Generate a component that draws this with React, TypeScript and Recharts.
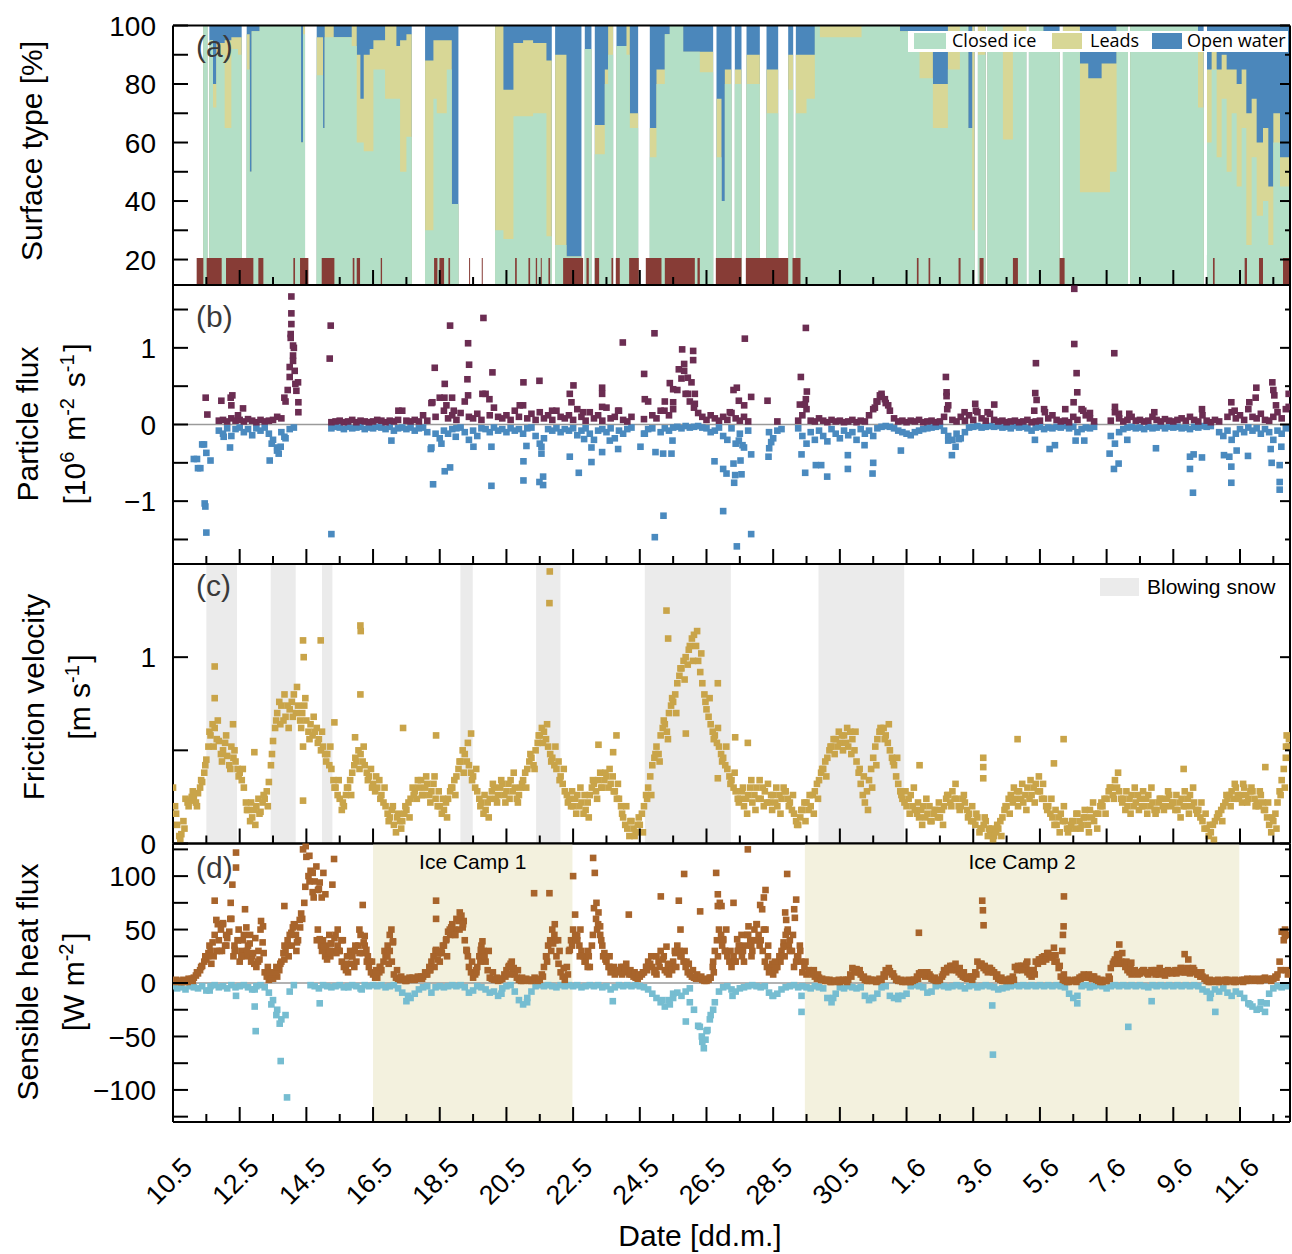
import React from "react";
import {
  ComposedChart, Area, Scatter, XAxis, YAxis, ReferenceArea, ReferenceLine,
} from "recharts";

const W = 1292;
const H = 1254;
const X_MAX = 33.5; // days after 10 May
const STEP = 0.125; // 3 h sampling of the regular series
const DAY_TICKS = [
  0, 1, 2, 3, 4, 5, 6, 7, 8, 9, 10, 11, 12, 13, 14, 15, 16,
  17, 18, 19, 20, 21, 22, 23, 24, 25, 26, 27, 28, 29, 30, 31, 32, 33,
];

// (a) surface type, step series; null = no camera data
const SURF_T = [
  0, 0.91, 1.03, 1.09, 1.2, 1.3, 1.55, 1.75, 1.95, 2.06,
  2.21, 2.3, 2.36, 2.6, 3.84, 3.9, 3.96, 4.31, 4.5, 4.55,
  4.82, 5.36, 5.51, 5.62, 5.72, 5.9, 6.01, 6.36, 6.7, 6.81,
  7.0, 7.16, 7.56, 7.81, 7.91, 8.21, 8.36, 8.56, 9.66, 9.91,
  10.21, 10.5, 10.8, 11.2, 11.36, 11.46, 11.8, 12.25, 12.35, 12.55,
  12.65, 12.95, 13.05, 13.2, 13.3, 13.6, 13.7, 13.95, 14.3, 14.5,
  14.75, 14.9, 15.3, 15.8, 16.2, 16.3, 16.45, 16.55, 16.75, 16.85,
  17.05, 17.2, 17.6, 17.8, 18.15, 18.45, 18.6, 18.68, 19.0, 19.25,
  19.4, 20.65, 21.8, 22.39, 22.79, 23.24, 23.6, 23.85, 23.97, 24.04,
  24.14, 24.37, 24.43, 24.89, 25.19, 25.59, 25.67, 26.1, 26.59, 26.69,
  27.2, 27.45, 27.85, 28.1, 28.3, 28.64, 28.71, 30.74, 30.91, 31.01,
  31.15, 31.3, 31.45, 31.6, 31.75, 31.9, 32.05, 32.19, 32.35, 32.5,
  32.69, 32.85, 33.0, 33.2,
];
const SURF_ICE = [
  null, 100, null, 95, 72, 90, 65, 92, 90, null,
  85, 50, 98, 100, 60, 97, null, 83, 65, 96,
  96, 93, 60, 60, 57, 57, 85, 75, 75, 50,
  62, null, 30, 75, 70, 85, 39, null, 30, 27,
  69, 69, 70, 28, null, 25, 21, null, 92, null,
  56, 80, 90, null, 93, 90, 65, null, 55, 80,
  97, 100, 91, 84, null, 55, 40, 80, null, 80,
  null, 80, null, 70, null, 78, null, 70, 75, 100,
  96, 100, 98, 82, 65, 85, 100, 65, 30, null,
  90, null, 100, 61, 95, null, 100, 97, null, 98,
  43, 43, 43, 50, 100, null, 100, 72, null, 60,
  85, 55, 75, 50, 70, 45, 65, 25, 55, 35,
  40, 25, 60, 45,
];
const SURF_LEADS = [
  null, 0, null, 0, 8, 4, 30, 4, 6, null,
  12, 0, 0, 0, 0, 3, null, 13, 0, 4,
  0, 7, 30, 15, 33, 35, 10, 25, 18, 45,
  35, null, 58, 20, 25, 10, 0, null, 70, 51,
  25, 26, 24, 60, null, 65, 0, null, 0, null,
  10, 5, 10, null, 0, 10, 5, null, 10, 5,
  0, 0, 0, 7, null, 20, 0, 5, null, 5,
  null, 10, null, 15, null, 12, null, 20, 15, 0,
  4, 0, 0, 14, 15, 15, 0, 0, 70, null,
  10, null, 0, 39, 5, null, 0, 0, null, 2,
  44, 39, 44, 37, 0, null, 0, 20, null, 25,
  8, 30, 15, 35, 15, 35, 20, 45, 20, 25,
  25, 20, 10, 10,
];
const SURF_OPEN = [
  null, 0, null, 5, 20, 6, 5, 4, 4, null,
  3, 50, 2, 0, 40, 0, null, 4, 35, 0,
  4, 0, 10, 25, 10, 8, 5, 0, 7, 5,
  3, null, 12, 5, 5, 5, 61, null, 0, 22,
  6, 5, 6, 12, null, 10, 79, null, 8, null,
  34, 15, 0, null, 7, 0, 30, null, 35, 15,
  3, 0, 9, 9, null, 25, 60, 15, null, 15,
  null, 10, null, 15, null, 10, null, 10, 10, 0,
  0, 0, 2, 4, 20, 0, 0, 35, 0, null,
  0, null, 0, 0, 0, null, 0, 3, null, 0,
  13, 18, 13, 13, 0, null, 0, 8, null, 15,
  7, 15, 10, 15, 15, 20, 15, 30, 25, 40,
  35, 55, 30, 45,
];
const FLAG_LEVEL = 20.5;
const FLAGS = [
  [0.71, 0.91], [1.01, 1.46], [1.59, 2.41], [2.56, 2.71], [3.61, 3.66],
  [3.81, 4.06], [4.46, 4.84], [5.39, 5.44], [5.51, 5.61], [6.23, 6.27],
  [7.83, 7.93], [7.99, 8.13], [8.26, 8.31], [8.88, 8.91], [9.26, 9.29],
  [10.26, 10.31], [10.66, 10.71], [10.88, 10.92], [11.03, 11.06], [11.26, 11.31],
  [11.7, 12.3], [12.4, 12.47], [12.65, 12.78], [13.15, 13.2], [13.28, 13.4],
  [13.68, 13.97], [14.18, 14.65], [14.75, 15.65], [15.73, 15.8], [16.28, 17.05],
  [17.18, 18.45], [18.58, 18.82], [22.31, 22.36], [22.66, 22.71], [23.56, 23.62],
  [24.19, 24.31], [25.19, 25.34], [26.59, 26.74], [31.19, 31.24], [32.14, 32.21],
  [32.57, 32.69], [33.29, 33.5],
];

// (b) particle flux, 10^6 m-2 s-1, one value per 3 h
const FLUX_UP = [
  null, null, null, null, null, null, null, null,
  null, null, null, 0.05, 0.06, 0.04, 0.08, 0.05,
  0.06, 0.04, 0.07, 0.05, 0.03, 0.06, 0.04, 0.05,
  0.06, 0.10, 0.08, 0.30, 0.62, 1.00, 0.55, null,
  null, null, null, null, null, null, 0.03, 0.04,
  0.05, 0.03, 0.04, 0.06, 0.03, 0.05, 0.04, 0.03,
  0.04, 0.06, 0.05, 0.03, 0.05, 0.04, 0.06, 0.18,
  0.05, 0.04, 0.06, 0.04, 0.12, 0.05, 0.28, 0.10,
  0.35, 0.18, 0.08, 0.12, 0.06, 0.15, 0.30, 0.10,
  0.08, 0.14, 0.06, 0.40, 0.12, 0.22, 0.10, 0.08,
  0.12, 0.06, 0.18, 0.10, 0.25, 0.08, 0.14, 0.06,
  0.16, 0.08, 0.12, 0.06, 0.18, 0.10, 0.08, 0.12,
  0.06, 0.20, 0.10, 0.05, 0.16, 0.08, 0.12, 0.05,
  0.22, 0.08, 0.10, 0.18, 0.06, 0.04, 0.10, null,
  null, 0.07, 0.30, 0.12, 0.08, 0.18, 0.30, 0.12,
  0.20, 0.45, 0.60, 0.40, 0.30, 0.22, 0.15, 0.10,
  0.06, 0.12, 0.08, 0.05, 0.10, 0.06, 0.15, 0.08,
  0.05, 0.10, 0.04, null, null, null, null, null,
  null, 0.04, null, null, null, null, 0.05, 0.12,
  0.20, 0.05, 0.04, 0.08, 0.05, 0.03, 0.06, 0.04,
  0.05, 0.03, 0.04, 0.06, 0.03, 0.05, 0.04, 0.12,
  0.20, 0.30, 0.36, 0.28, 0.18, 0.08, 0.04, 0.05,
  0.03, 0.05, 0.04, 0.06, 0.03, 0.04, 0.05, 0.03,
  0.04, 0.10, 0.25, 0.06, 0.04, 0.10, 0.05, 0.12,
  0.06, 0.16, 0.08, 0.05, 0.14, 0.06, 0.04, 0.05,
  0.03, 0.04, 0.05, 0.03, 0.04, 0.06, 0.03, 0.04,
  0.05, 0.20, 0.08, 0.12, 0.06, 0.04, 0.05, 0.03,
  0.10, 0.06, 0.20, 0.12, 0.08, 0.04, null, null,
  null, 0.05, 0.16, 0.08, 0.04, 0.06, 0.10, 0.05,
  0.06, 0.04, 0.05, 0.10, 0.06, 0.04, 0.07, 0.05,
  0.04, 0.06, 0.08, 0.05, 0.10, 0.06, 0.04, 0.12,
  0.05, 0.03, 0.06, 0.04, null, 0.10, 0.16, 0.08,
  0.12, 0.06, 0.20, 0.10, 0.08, 0.14, 0.06, 0.05,
  0.10, 0.16, 0.08, 0.20,
];
const FLUX_DOWN = [
  null, null, null, null, null, -0.45, -0.57, -0.26,
  -0.37, -0.47, null, -0.08, -0.12, -0.05, -0.15, -0.06,
  -0.04, -0.10, -0.06, -0.14, -0.05, -0.08, -0.04, -0.12,
  -0.20, -0.30, -0.10, -0.18, -0.06, -0.04, null, null,
  null, null, null, null, null, null, -0.05, -0.03,
  -0.04, -0.06, -0.03, -0.05, -0.04, -0.03, -0.06, -0.04,
  -0.05, -0.03, -0.04, -0.06, -0.03, -0.08, -0.05, -0.04,
  -0.06, -0.04, -0.08, -0.05, -0.04, -0.10, -0.30, -0.12,
  -0.18, -0.08, -0.12, -0.06, -0.05, -0.04, -0.10, -0.20,
  -0.08, -0.15, -0.05, -0.06, -0.10, -0.04, -0.08, -0.06,
  -0.10, -0.05, -0.08, -0.06, -0.12, -0.05, -0.04, -0.15,
  -0.25, -0.18, -0.06, -0.08, -0.05, -0.10, -0.06, -0.08,
  -0.05, -0.14, -0.08, -0.05, -0.12, -0.20, -0.08, -0.06,
  -0.10, -0.05, -0.18, -0.08, -0.12, -0.06, -0.04, null,
  null, -0.12, -0.06, -0.05, null, -0.10, -0.05, -0.08,
  -0.04, -0.03, -0.05, -0.02, -0.04, -0.03, -0.02, -0.04,
  -0.05, -0.10, -0.08, -0.04, -0.15, -0.20, -0.05, -0.25,
  -0.12, -0.30, -0.08, null, null, null, null, -0.10,
  -0.18, -0.08, -0.06, null, null, null, -0.05, -0.15,
  -0.25, -0.10, -0.20, -0.08, -0.15, -0.22, -0.06, -0.12,
  -0.18, -0.08, -0.14, -0.10, -0.20, -0.06, -0.12, -0.08,
  -0.15, -0.05, -0.03, -0.02, -0.03, -0.05, -0.08, -0.10,
  -0.12, -0.14, -0.10, -0.08, -0.06, -0.05, -0.04, -0.03,
  -0.02, -0.08, -0.15, -0.20, -0.12, -0.18, -0.10, -0.04,
  -0.03, -0.02, -0.04, -0.03, -0.02, -0.03, -0.02, -0.04,
  -0.03, -0.05, -0.02, -0.04, -0.03, -0.05, -0.08, -0.04,
  -0.03, -0.06, -0.04, -0.05, -0.03, -0.04, -0.02, -0.05,
  -0.03, -0.10, -0.06, -0.04, -0.05, -0.03, null, null,
  null, -0.15, -0.25, -0.10, -0.06, -0.04, -0.03, -0.05,
  -0.04, -0.06, -0.03, -0.05, -0.04, -0.02, -0.05, -0.03,
  -0.04, -0.03, -0.05, -0.04, -0.06, -0.03, -0.04, -0.02,
  -0.03, -0.02, null, -0.10, -0.15, -0.08, -0.20, -0.12,
  -0.06, -0.10, -0.04, -0.08, -0.05, -0.12, -0.06, -0.10,
  -0.20, -0.08, -0.12, -0.05,
];
const FLUX_UP_EXTRA = [
  [0.98, 0.35], [1.03, 0.13], [1.45, 0.31], [1.73, 0.35], [1.75, 0.25], [1.78, 0.38],
  [2.1, 0.21], [1.95, 0.12], [3.34, 0.35], [3.44, 0.45], [3.55, 1.67], [3.55, 1.45],
  [3.55, 1.31], [3.53, 1.18], [3.53, 1.13], [3.6, 1.03], [3.6, 0.9], [3.6, 0.83],
  [3.65, 0.7], [3.67, 0.53], [3.7, 0.44], [3.76, 0.29], [3.76, 0.16], [3.5, 0.75],
  [4.73, 1.29], [4.7, 0.86], [6.76, 0.18], [7.78, 0.29], [7.85, 0.74], [8.15, 0.53],
  [8.14, 0.35], [8.2, 0.25], [8.31, 1.29], [8.42, 0.18], [8.37, 0.35], [8.85, 1.06],
  [8.88, 0.78], [8.83, 0.59], [8.85, 0.38], [9.28, 0.4], [9.31, 1.39], [9.49, 0.33],
  [9.58, 0.68], [10.51, 0.55], [10.99, 0.57], [10.4, 0.25], [11.37, 0.18], [11.9, 0.4],
  [11.95, 0.29], [12.01, 0.51], [12.3, 0.16], [12.87, 0.48], [12.87, 0.4], [12.87, 0.23],
  [13.35, 0.18], [13.49, 1.07], [14.13, 0.66], [14.15, 0.33], [14.44, 1.19], [14.74, 0.18],
  [14.9, 0.54], [15.0, 0.29], [15.0, 0.46], [15.17, 0.72], [15.27, 0.98], [15.33, 0.79],
  [15.33, 0.7], [15.44, 0.61], [15.44, 0.4], [15.55, 0.55], [15.6, 0.96], [15.6, 0.84],
  [15.65, 0.4], [15.65, 0.27], [16.7, 0.16], [16.81, 0.45], [16.91, 0.48], [16.97, 0.31],
  [17.13, 0.25], [17.15, 1.12], [17.34, 0.36], [17.83, 0.31], [18.83, 0.62], [18.98, 1.26],
  [19.01, 0.43], [18.98, 0.33], [18.95, 0.26], [18.8, 0.26], [21.1, 0.3], [21.2, 0.38],
  [21.25, 0.4], [21.35, 0.33], [21.05, 0.22], [21.45, 0.25], [23.18, 0.62], [23.2, 0.42],
  [23.2, 0.37], [23.22, 0.2], [23.74, 0.16], [24.06, 0.27], [24.08, 0.18], [24.43, 0.16],
  [24.63, 0.26], [25.88, 0.8], [25.86, 0.41], [25.9, 0.32], [25.83, 0.18], [26.15, 0.16],
  [27.03, 1.77], [27.03, 1.05], [27.1, 0.67], [27.12, 0.42], [27.01, 0.29], [26.76, 0.2],
  [27.3, 0.18], [27.5, 0.15], [28.23, 0.93], [28.25, 0.23], [28.37, 0.14], [28.68, 0.14],
  [29.43, 0.16], [30.86, 0.2], [31.74, 0.29], [31.84, 0.18], [32.28, 0.29], [32.47, 0.35],
  [32.49, 0.48], [32.97, 0.55], [33.0, 0.45], [33.03, 0.38], [33.08, 0.25], [33.46, 0.4],
  [33.46, 0.23],
];
const FLUX_DOWN_EXTRA = [
  [0.72, -0.45], [0.82, -0.57], [0.93, -0.26], [0.95, -1.03], [0.97, -1.07], [1.0, -1.41],
  [1.52, -0.16], [1.71, -0.3], [2.9, -0.47], [2.96, -0.25], [3.12, -0.34], [3.17, -0.38],
  [3.23, -0.29], [3.34, -0.16], [4.75, -1.43], [6.55, -0.21], [7.73, -0.32], [7.8, -0.78],
  [8.05, -0.25], [8.15, -0.61], [8.31, -0.56], [8.48, -0.16], [9.01, -0.29], [9.55, -0.8],
  [9.55, -0.29], [10.51, -0.48], [10.51, -0.73], [10.6, -0.28], [10.99, -0.75], [11.1, -0.79],
  [11.1, -0.68], [11.05, -0.29], [11.05, -0.38], [11.9, -0.42], [12.17, -0.63], [12.33, -0.19],
  [12.55, -0.49], [12.55, -0.3], [12.87, -0.36], [13.35, -0.32], [13.1, -0.21], [14.02, -0.29],
  [14.15, -0.12], [14.47, -0.36], [14.45, -1.47], [14.71, -1.19], [14.7, -0.38], [14.95, -0.38],
  [14.98, -0.21], [16.24, -0.48], [16.5, -0.58], [16.6, -0.64], [16.5, -1.13], [16.81, -0.51],
  [16.86, -0.66], [17.02, -0.47], [17.05, -0.65], [16.83, -0.76], [16.91, -1.59], [17.34, -1.43],
  [17.34, -0.39], [17.08, -0.27], [16.97, -0.21], [17.86, -0.42], [17.88, -0.31], [17.94, -0.23],
  [18.85, -0.39], [18.96, -0.63], [19.28, -0.53], [19.44, -0.53], [19.62, -0.68], [20.24, -0.58],
  [20.24, -0.4], [20.74, -0.27], [20.98, -0.64], [21.0, -0.5], [21.83, -0.34], [23.36, -0.4],
  [23.47, -0.29], [23.25, -0.21], [23.57, -0.19], [25.85, -0.2], [26.29, -0.32], [26.45, -0.27],
  [27.07, -0.21], [27.33, -0.21], [28.09, -0.38], [28.22, -0.58], [28.36, -0.51], [28.62, -0.2],
  [29.48, -0.31], [30.5, -0.42], [30.5, -0.58], [30.59, -0.89], [30.61, -0.39], [30.86, -0.43],
  [31.52, -0.4], [31.68, -0.42], [31.74, -0.55], [31.74, -0.76], [31.9, -0.34], [32.24, -0.41],
  [32.92, -0.32], [32.95, -0.5], [33.19, -0.53], [33.19, -0.75], [33.19, -0.85], [33.24, -0.29],
];

// (c) friction velocity, m s-1: one value per 3 h, plus two more readings in between
const USTAR = [
  0.30, 0.10, 0.05, 0.24, 0.23, 0.24, 0.27, 0.33,
  0.45, 0.58, 0.62, 0.55, 0.50, 0.47, 0.52, 0.44,
  0.38, 0.30, 0.18, 0.14, 0.20, 0.17, 0.24, 0.33,
  0.55, 0.70, 0.74, 0.68, 0.72, 0.80, 0.74, 0.70,
  0.66, 0.64, 0.60, 0.56, 0.52, 0.48, 0.40, 0.30,
  0.24, 0.20, 0.30, 0.38, 0.44, 0.48, 0.42, 0.36,
  0.32, 0.30, 0.26, 0.20, 0.14, 0.10, 0.16, 0.12,
  0.18, 0.24, 0.28, 0.30, 0.26, 0.32, 0.28, 0.24,
  0.20, 0.18, 0.24, 0.30, 0.36, 0.44, 0.48, 0.42,
  0.36, 0.28, 0.22, 0.18, 0.24, 0.30, 0.26, 0.32,
  0.28, 0.34, 0.30, 0.26, 0.34, 0.40, 0.46, 0.50,
  0.58, 0.60, 0.52, 0.46, 0.40, 0.36, 0.28, 0.24,
  0.20, 0.26, 0.22, 0.18, 0.26, 0.32, 0.34, 0.30,
  0.36, 0.32, 0.28, 0.24, 0.14, 0.08, 0.12, 0.06,
  0.10, 0.20, 0.30, 0.42, 0.52, 0.58, 0.64, 0.70,
  0.76, 0.86, 0.94, 1.00, 1.06, 1.12, 0.98, 0.86,
  0.72, 0.64, 0.58, 0.52, 0.46, 0.40, 0.34, 0.28,
  0.24, 0.20, 0.26, 0.22, 0.30, 0.24, 0.28, 0.22,
  0.26, 0.20, 0.24, 0.28, 0.22, 0.16, 0.10, 0.18,
  0.22, 0.20, 0.28, 0.34, 0.40, 0.46, 0.52, 0.56,
  0.54, 0.58, 0.52, 0.56, 0.44, 0.32, 0.22, 0.34,
  0.46, 0.56, 0.60, 0.58, 0.50, 0.42, 0.32, 0.24,
  0.20, 0.26, 0.18, 0.14, 0.20, 0.16, 0.12, 0.18,
  0.14, 0.20, 0.26, 0.28, 0.24, 0.20, 0.22, 0.16,
  0.12, 0.14, 0.08, 0.12, 0.06, 0.04, 0.08, 0.14,
  0.20, 0.26, 0.24, 0.28, 0.22, 0.30, 0.26, 0.32,
  0.28, 0.24, 0.20, 0.14, 0.10, 0.16, 0.12, 0.08,
  0.12, 0.16, 0.10, 0.14, 0.18, 0.12, 0.16, 0.20,
  0.24, 0.30, 0.34, 0.28, 0.24, 0.20, 0.26, 0.22,
  0.24, 0.20, 0.26, 0.22, 0.18, 0.24, 0.20, 0.26,
  0.22, 0.18, 0.24, 0.20, 0.26, 0.22, 0.18, 0.12,
  0.08, 0.06, 0.12, 0.16, 0.20, 0.24, 0.28, 0.30,
  0.26, 0.30, 0.24, 0.28, 0.22, 0.26, 0.18, 0.10,
  0.12, 0.22, 0.34, 0.46,
];
const USTAR_MID = [
  0.20, 0.04, 0.12, 0.22, 0.25, 0.22, 0.30, 0.38,
  0.52, 0.64, 0.56, 0.48, 0.54, 0.42, 0.46, 0.40,
  0.34, 0.22, 0.12, 0.18, 0.24, 0.22, 0.28, 0.42,
  0.62, 0.76, 0.66, 0.74, 0.76, 0.70, 0.66, 0.74,
  0.60, 0.58, 0.62, 0.50, 0.48, 0.42, 0.34, 0.26,
  0.18, 0.26, 0.34, 0.42, 0.50, 0.44, 0.38, 0.40,
  0.28, 0.34, 0.22, 0.16, 0.18, 0.06, 0.12, 0.16,
  0.22, 0.30, 0.24, 0.34, 0.30, 0.26, 0.32, 0.20,
  0.16, 0.22, 0.28, 0.34, 0.40, 0.50, 0.44, 0.38,
  0.30, 0.24, 0.16, 0.22, 0.28, 0.24, 0.30, 0.26,
  0.32, 0.28, 0.24, 0.30, 0.38, 0.44, 0.42, 0.54,
  0.62, 0.56, 0.48, 0.42, 0.44, 0.32, 0.26, 0.20,
  0.24, 0.20, 0.16, 0.22, 0.30, 0.28, 0.38, 0.34,
  0.30, 0.36, 0.24, 0.20, 0.10, 0.04, 0.08, 0.10,
  0.16, 0.26, 0.36, 0.46, 0.48, 0.62, 0.60, 0.74,
  0.80, 0.90, 0.98, 0.96, 1.10, 1.06, 0.92, 0.80,
  0.68, 0.60, 0.54, 0.48, 0.42, 0.36, 0.30, 0.24,
  0.28, 0.24, 0.30, 0.26, 0.24, 0.30, 0.22, 0.26,
  0.22, 0.26, 0.30, 0.24, 0.18, 0.12, 0.14, 0.22,
  0.18, 0.26, 0.32, 0.38, 0.44, 0.50, 0.56, 0.52,
  0.58, 0.54, 0.60, 0.50, 0.38, 0.26, 0.28, 0.40,
  0.52, 0.60, 0.62, 0.54, 0.46, 0.36, 0.28, 0.22,
  0.24, 0.20, 0.16, 0.18, 0.14, 0.20, 0.16, 0.14,
  0.18, 0.24, 0.22, 0.24, 0.20, 0.24, 0.18, 0.12,
  0.10, 0.06, 0.10, 0.04, 0.08, 0.06, 0.12, 0.18,
  0.24, 0.22, 0.28, 0.24, 0.26, 0.24, 0.30, 0.28,
  0.24, 0.20, 0.16, 0.10, 0.14, 0.12, 0.08, 0.10,
  0.08, 0.12, 0.14, 0.10, 0.14, 0.16, 0.20, 0.24,
  0.28, 0.26, 0.30, 0.24, 0.18, 0.24, 0.20, 0.26,
  0.20, 0.24, 0.20, 0.18, 0.22, 0.20, 0.24, 0.20,
  0.18, 0.22, 0.20, 0.24, 0.20, 0.18, 0.14, 0.08,
  0.04, 0.10, 0.14, 0.18, 0.22, 0.26, 0.24, 0.26,
  0.22, 0.26, 0.28, 0.24, 0.20, 0.22, 0.14, 0.06,
  0.16, 0.28, 0.40, 0.52,
];
const USTAR_ALT = [
  0.16, 0.02, 0.08, 0.20, 0.28, 0.20, 0.34, 0.42,
  0.60, 0.52, 0.66, 0.44, 0.58, 0.40, 0.50, 0.36,
  0.40, 0.18, 0.22, 0.10, 0.16, 0.26, 0.20, 0.48,
  0.66, 0.64, 0.80, 0.62, 0.68, 0.84, 0.62, 0.78,
  0.56, 0.68, 0.54, 0.60, 0.44, 0.52, 0.30, 0.34,
  0.22, 0.30, 0.26, 0.46, 0.40, 0.52, 0.34, 0.30,
  0.36, 0.24, 0.30, 0.12, 0.20, 0.14, 0.08, 0.20,
  0.14, 0.26, 0.34, 0.26, 0.36, 0.22, 0.36, 0.28,
  0.24, 0.14, 0.30, 0.26, 0.44, 0.38, 0.54, 0.34,
  0.40, 0.20, 0.26, 0.14, 0.32, 0.22, 0.34, 0.22,
  0.24, 0.38, 0.22, 0.32, 0.30, 0.48, 0.40, 0.58,
  0.54, 0.64, 0.44, 0.52, 0.34, 0.40, 0.22, 0.28,
  0.16, 0.30, 0.26, 0.14, 0.34, 0.24, 0.30, 0.38,
  0.40, 0.28, 0.32, 0.16, 0.20, 0.12, 0.04, 0.14,
  0.06, 0.24, 0.26, 0.48, 0.44, 0.66, 0.56, 0.78,
  0.70, 0.94, 0.88, 1.04, 0.98, 1.14, 1.02, 0.76,
  0.78, 0.56, 0.62, 0.44, 0.52, 0.32, 0.38, 0.22,
  0.30, 0.16, 0.34, 0.18, 0.34, 0.20, 0.32, 0.18,
  0.30, 0.16, 0.28, 0.20, 0.26, 0.10, 0.18, 0.12,
  0.26, 0.16, 0.24, 0.40, 0.36, 0.52, 0.48, 0.60,
  0.50, 0.62, 0.48, 0.60, 0.40, 0.36, 0.18, 0.30,
  0.42, 0.62, 0.56, 0.64, 0.44, 0.46, 0.26, 0.28,
  0.16, 0.30, 0.22, 0.10, 0.24, 0.12, 0.18, 0.22,
  0.10, 0.26, 0.20, 0.32, 0.18, 0.26, 0.14, 0.20,
  0.16, 0.08, 0.14, 0.08, 0.02, 0.10, 0.04, 0.20,
  0.16, 0.30, 0.20, 0.32, 0.18, 0.34, 0.22, 0.36,
  0.32, 0.18, 0.24, 0.18, 0.06, 0.20, 0.06, 0.12,
  0.16, 0.08, 0.18, 0.06, 0.22, 0.08, 0.22, 0.16,
  0.30, 0.24, 0.38, 0.22, 0.28, 0.16, 0.30, 0.18,
  0.28, 0.16, 0.30, 0.16, 0.24, 0.18, 0.28, 0.22,
  0.26, 0.14, 0.28, 0.16, 0.30, 0.16, 0.22, 0.16,
  0.10, 0.02, 0.16, 0.12, 0.26, 0.20, 0.32, 0.24,
  0.32, 0.22, 0.30, 0.20, 0.28, 0.18, 0.22, 0.14,
  0.08, 0.26, 0.30, 0.56,
];
const USTAR_EXTRA = [
  [1.25, 0.95], [1.25, 0.78], [1.8, 0.64], [2.44, 0.49], [3.9, 1.09], [3.92, 1.0],
  [4.43, 1.09], [3.9, 0.52], [3.9, 0.23], [4.84, 0.65], [5.62, 1.17], [5.63, 1.14],
  [5.62, 0.8], [5.46, 0.57], [6.9, 0.62], [7.89, 0.58], [8.94, 0.59], [11.3, 1.46],
  [11.29, 1.29], [12.76, 0.53], [13.2, 0.49], [13.3, 0.58], [14.8, 1.25], [14.85, 1.1],
  [15.38, 0.59], [16.34, 0.86], [16.34, 0.35], [16.86, 0.57], [17.24, 0.54], [22.39, 0.42],
  [24.3, 0.46], [24.3, 0.41], [24.3, 0.35], [25.33, 0.56], [26.42, 0.43], [26.71, 0.56],
  [30.31, 0.4], [32.76, 0.41], [33.38, 0.52], [33.4, 0.58],
];
const SNOW_BANDS = [
  [1.0, 1.92], [2.93, 3.68], [4.47, 4.78], [8.62, 8.99], [10.89, 11.62],
  [14.15, 16.73], [19.36, 21.93],
];

// (d) sensible heat flux, W m-2: one value per 3 h, plus two more readings in between
const SHF_UP = [
  1, 2, 1, 2, 3, 5, 9, 16,
  22, 30, 45, 40, 55, 42, 60, 30,
  20, 45, 35, 25, 15, 50, 10, 3,
  4, 6, 20, 30, 45, 55, 40, 60,
  118, 105, 95, 88, 40, 30, 37, 45,
  30, 15, 10, 25, 20, 45, 35, 15,
  8, 5, 12, 25, 45, 8, 4, 3,
  2, 4, 3, 5, 6, 8, 20, 30,
  20, 35, 48, 55, 60, 62, 40, 15,
  5, 15, 35, 20, 5, 3, 2, 4,
  12, 18, 8, 3, 2, 3, 2, 4,
  3, 15, 35, 50, 25, 10, 3, 30,
  50, 40, 30, 20, 15, 70, 55, 35,
  20, 10, 8, 12, 15, 10, 8, 5,
  6, 10, 20, 15, 8, 30, 12, 8,
  20, 35, 25, 15, 8, 5, 4, 3,
  2, 5, 30, 50, 40, 25, 15, 20,
  35, 20, 45, 30, 55, 40, 20, 10,
  8, 15, 30, 45, 40, 15, 25, 10,
  8, 10, 6, 5, 3, 2, 1, 2,
  1, 2, 3, 14, 13, 8, 3, 2,
  3, 2, 3, 12, 11, 6, 2, 1,
  2, 1, 3, 9, 8, 10, 4, 2,
  3, 12, 14, 16, 12, 8, 5, 4,
  6, 20, 18, 12, 14, 10, 4, 2,
  3, 2, 15, 14, 16, 10, 6, 20,
  22, 25, 28, 24, 20, 6, 2, 1,
  2, 3, 6, 7, 5, 6, 2, 1,
  2, 14, 22, 25, 18, 12, 8, 10,
  9, 12, 8, 10, 12, 9, 7, 11,
  10, 12, 14, 10, 9, 12, 8, 6,
  2, 1, 2, 1, 2, 3, 2, 1,
  2, 3, 2, 4, 3, 2, 5, 3,
  4, 8, 48, 12,
];
const SHF_UP_MID = [
  2, 1, 3, 1, 4, 7, 12, 20,
  28, 38, 30, 50, 35, 48, 25, 40,
  30, 25, 45, 18, 30, 38, 6, 5,
  8, 12, 28, 40, 35, 45, 52, 75,
  100, 85, 40, 35, 25, 45, 30, 35,
  20, 12, 30, 15, 35, 28, 20, 10,
  5, 10, 20, 35, 20, 5, 3, 4,
  3, 5, 4, 6, 10, 15, 25, 22,
  28, 40, 45, 50, 58, 52, 30, 10,
  8, 25, 30, 12, 4, 3, 3, 8,
  15, 10, 5, 2, 3, 2, 3, 2,
  8, 25, 40, 45, 18, 6, 15, 40,
  45, 35, 25, 15, 35, 60, 45, 28,
  15, 12, 10, 15, 12, 8, 6, 4,
  8, 15, 18, 10, 20, 22, 10, 15,
  28, 30, 20, 10, 6, 4, 5, 2,
  3, 15, 40, 45, 30, 20, 25, 30,
  25, 35, 40, 50, 45, 30, 15, 12,
  12, 25, 38, 50, 30, 20, 30, 15,
  12, 8, 4, 3, 2, 3, 2, 1,
  2, 3, 8, 12, 10, 5, 2, 3,
  2, 4, 8, 10, 8, 3, 2, 2,
  3, 2, 6, 10, 6, 8, 3, 2,
  6, 10, 16, 14, 10, 6, 4, 6,
  10, 16, 14, 10, 12, 6, 3, 2,
  2, 6, 12, 16, 14, 8, 12, 18,
  24, 22, 26, 20, 14, 3, 1, 2,
  3, 5, 8, 6, 4, 3, 1, 2,
  6, 18, 26, 20, 15, 10, 10, 8,
  11, 10, 10, 12, 8, 11, 9, 10,
  12, 10, 12, 14, 11, 10, 6, 4,
  1, 2, 1, 2, 3, 2, 1, 2,
  3, 2, 3, 2, 4, 3, 4, 2,
  6, 20, 40, 8,
];
const SHF_UP_ALT = [
  3, 2, 1, 4, 2, 10, 15, 25,
  35, 25, 55, 30, 45, 60, 35, 50,
  40, 30, 20, 42, 22, 28, 15, 8,
  10, 18, 35, 25, 52, 38, 65, 90,
  95, 80, 50, 30, 35, 25, 42, 30,
  40, 25, 18, 35, 28, 38, 25, 20,
  12, 15, 30, 18, 38, 12, 6, 2,
  5, 3, 6, 4, 8, 12, 15, 28,
  35, 25, 52, 45, 50, 58, 25, 20,
  12, 20, 25, 30, 10, 5, 4, 6,
  8, 14, 12, 5, 4, 3, 5, 3,
  6, 20, 30, 40, 30, 14, 8, 35,
  40, 50, 20, 25, 45, 50, 40, 22,
  25, 15, 12, 8, 18, 12, 10, 8,
  10, 12, 25, 12, 15, 25, 18, 12,
  15, 25, 30, 18, 12, 8, 6, 4,
  5, 10, 25, 35, 50, 30, 20, 35,
  30, 45, 35, 40, 35, 50, 25, 18,
  15, 20, 25, 35, 45, 25, 20, 20,
  10, 12, 8, 4, 3, 1, 2, 3,
  3, 1, 6, 10, 12, 6, 4, 2,
  1, 3, 6, 14, 9, 4, 3, 1,
  1, 3, 4, 8, 10, 6, 5, 3,
  8, 14, 12, 18, 14, 10, 6, 3,
  8, 18, 16, 14, 10, 8, 5, 3,
  4, 3, 16, 12, 18, 12, 8, 22,
  20, 28, 24, 26, 16, 8, 3, 2,
  1, 4, 5, 8, 6, 4, 3, 2,
  4, 20, 18, 28, 20, 14, 12, 9,
  12, 9, 12, 8, 14, 10, 12, 9,
  9, 14, 10, 12, 14, 8, 10, 5,
  3, 2, 3, 2, 1, 2, 3, 2,
  1, 4, 3, 3, 2, 4, 3, 4,
  5, 12, 44, 10,
];
const SHF_DOWN = [
  -3, -5, -4, -6, -3, -4, -5, -3,
  -7, -3, -2, -4, -3, -5, -2, -4,
  -3, -2, -4, -6, -3, -2, -4, -9,
  -16, -25, -34, -30, -8, -2, null, null,
  null, -2, -3, -5, -2, -3, -4, -3,
  -2, -4, -3, -2, -3, -5, -2, -3,
  -2, -3, -2, -4, -3, -2, -5, -9,
  -17, -14, -10, -6, -4, -3, -9, -4,
  -3, -4, -3, -2, -3, -2, -4, -9,
  -7, -3, -4, -6, -9, -8, -12, -5,
  -3, -2, -8, -16, -20, -14, -8, -3,
  -2, -3, -2, -3, -4, -2, -3, -2,
  -3, -2, -4, -3, -2, -3, -2, -4,
  -3, -6, -4, -2, -3, -2, -3, -2,
  -3, -4, -6, -10, -14, -18, -22, -16,
  -10, -9, -12, -8, -5, -25, -40, -55,
  -45, -30, -18, -8, -4, -3, -6, -8,
  -5, -4, -3, -2, -3, -4, -3, -9,
  -12, -10, -6, -4, -3, -2, -4, -3,
  -4, -5, -3, -4, -5, -14, -18, -10,
  -4, -5, -3, -4, -5, -4, -12, -16,
  -14, -10, -4, -3, -12, -14, -15, -12,
  -10, -3, -2, -3, -4, -9, -8, -3,
  -2, -3, -4, -3, -2, -3, -5, -3,
  -2, -4, -3, -2, -3, -4, -6, -5,
  -4, -3, -2, -3, -2, -3, -2, -3,
  -2, -3, -2, -3, -2, -3, -4, -10,
  -14, -12, -3, -2, -4, -3, -2, -3,
  -5, -3, -2, -3, -2, -3, -2, -3,
  -2, -3, -4, -2, -3, -2, -3, -2,
  -3, -2, -3, -2, -3, -2, -3, -6,
  -8, -10, -6, -8, -5, -9, -12, -8,
  -10, -14, -19, -22, -25, -18, -27, -10,
  -5, -3, -4, -3,
];
const SHF_UP_EXTRA = [
  [1.25, 77], [1.3, 59], [1.5, 56], [1.73, 75], [1.89, 122], [1.89, 108], [1.78, 92],
  [1.85, 31], [2.16, 69], [2.2, 52], [2.3, 37], [2.4, 28], [2.64, 58], [2.7, 53],
  [3.34, 22], [3.34, 72], [3.55, 47], [3.65, 53], [3.8, 59], [3.9, 125], [3.98, 128],
  [4.09, 119], [4.19, 103], [4.3, 109], [4.35, 87], [4.4, 94], [4.46, 80], [4.51, 103],
  [4.57, 83], [4.83, 116], [4.78, 92], [4.4, 41], [4.51, 34], [4.62, 22], [4.73, 37],
  [4.94, 50], [5.37, 25], [5.59, 50], [5.69, 73], [5.75, 44], [5.8, 31], [6.43, 25],
  [6.55, 50], [6.6, 39], [7.89, 31], [7.89, 60], [7.89, 77], [8.2, 41], [8.3, 50],
  [8.6, 66], [8.65, 63], [8.8, 31], [9.23, 31], [9.28, 39], [10.08, 16], [10.16, 20],
  [10.83, 84], [11.29, 84], [11.4, 37], [11.45, 55], [11.9, 31], [12.0, 100], [12.06, 64],
  [12.12, 44], [12.6, 117], [12.65, 103], [12.7, 75], [12.76, 66], [12.81, 53], [13.67, 64],
  [14.63, 81], [14.8, 34], [15.17, 77], [15.22, 50], [15.33, 102], [15.81, 67], [16.29, 103],
  [16.34, 83], [16.34, 72], [16.4, 75], [16.45, 72], [16.5, 41], [16.81, 75], [16.92, 41],
  [17.24, 125], [17.26, 53], [17.51, 55], [17.61, 73], [17.67, 69], [17.72, 80], [17.77, 87],
  [17.77, 50], [18.31, 34], [18.36, 66], [18.39, 59], [18.42, 48], [18.42, 102], [18.63, 69],
  [18.65, 61], [18.69, 78], [22.37, 47], [24.27, 77], [24.29, 68], [24.31, 54], [25.62, 20],
  [26.42, 33], [26.67, 30], [26.69, 45], [26.71, 53], [26.72, 81], [28.33, 27], [28.38, 36],
  [28.74, 19], [30.34, 27], [30.45, 22], [33.35, 50], [33.37, 45],
  [1.05, 25], [1.15, 18], [1.4, 30], [1.6, 35], [1.95, 40], [2.05, 25], [2.55, 20],
  [2.9, 10], [3.1, 15], [3.45, 35], [3.7, 30], [4.7, 30], [4.9, 28], [5.05, 40],
  [5.2, 18], [5.45, 30], [5.9, 20], [6.2, 15], [6.5, 30], [7.7, 12], [8.05, 30],
  [8.45, 45], [8.7, 55], [9.1, 10], [11.2, 25], [11.55, 40], [12.2, 25], [12.45, 30],
  [12.9, 25], [13.1, 15], [14.2, 15], [14.5, 25], [15.05, 30], [15.4, 20], [16.2, 20],
  [16.55, 30], [16.95, 30], [17.05, 45], [17.35, 25], [17.45, 40], [17.85, 35], [18.05, 20],
  [18.2, 25], [18.5, 30], [18.8, 35],
];
const SHF_DOWN_EXTRA = [
  [1.1, -7], [1.89, -12], [2.45, -6], [2.45, -22], [2.48, -45], [3.23, -73], [3.42, -107],
  [4.4, -19], [5.26, -4], [5.66, -6], [13.19, -17], [14.68, -16], [15.38, -36], [15.8, -41],
  [15.86, -50], [15.92, -61], [15.97, -53], [16.03, -44], [16.1, -34], [16.2, -25], [16.78, -12],
  [17.98, -12], [18.85, -27], [18.85, -12], [24.57, -21], [24.59, -67], [27.12, -19], [28.65, -41],
  [29.35, -17], [31.26, -27], [31.1, -14], [32.8, -19], [2.95, -20], [3.1, -30], [3.2, -38],
  [7.05, -12], [9.85, -10], [10.62, -18], [14.9, -20], [15.0, -14], [15.5, -18], [19.8, -14],
  [20.95, -14], [21.75, -12], [32.3, -20], [32.6, -24],
];
const CAMPS = [
  { name: "Ice Camp 1", from: 6.0, to: 11.98 },
  { name: "Ice Camp 2", from: 18.95, to: 31.98 },
];

const C_ICE = "#b3dfc6";
const C_LEADS = "#d8d796";
const C_OPEN = "#4b87bb";
const C_FLAG = "#873c36";
const C_FLUX_UP = "#6b2d52";
const C_FLUX_DOWN = "#4a8abf";
const C_USTAR = "#c9a449";
const C_SHF_UP = "#a8642b";
const C_SHF_DOWN = "#76bdd1";
const C_SNOW = "#ebebeb";
const C_CAMP = "#f3f1de";

const FONT = "'Liberation Sans', Arial, sans-serif";
const AXIS_LINE = { stroke: "#000", strokeWidth: 2 };

function dayLabel(d: number) {
  const day = 10 + d;
  return day <= 31 ? `${day}.5` : `${day - 31}.6`;
}

function fmtNum(v: number) {
  return v < 0 ? `\u2212${Math.abs(v)}` : `${v}`;
}

function regular(vals: (number | null)[], offset = 0) {
  const out: { t: number; v: number }[] = [];
  vals.forEach((v, i) => {
    if (v !== null) out.push({ t: i * STEP + offset, v });
  });
  return out;
}

function pairs(list: number[][]) {
  return list.map(([t, v]) => ({ t, v }));
}

function surfaceRows() {
  const row = (t: number, j: number) => {
    const ice = SURF_ICE[j] as number;
    const lead = ice + (SURF_LEADS[j] as number);
    return { t, ice, lead, open: lead + (SURF_OPEN[j] as number) };
  };
  const rows: any[] = [];
  for (let i = 0; i < SURF_T.length; i++) {
    if (SURF_ICE[i] === null) {
      if (i > 0 && SURF_ICE[i - 1] !== null) rows.push(row(SURF_T[i], i - 1));
      rows.push({ t: SURF_T[i], ice: null, lead: null, open: null });
    } else {
      rows.push(row(SURF_T[i], i));
    }
  }
  rows.push(row(X_MAX, SURF_T.length - 1));
  return rows;
}

function flagRows() {
  return FLAGS.flatMap(([s, e]) => [
    { t: s, f: FLAG_LEVEL }, { t: e, f: FLAG_LEVEL }, { t: e, f: null },
  ]);
}

const square = (fill: string) => (p: any) =>
  <rect x={p.cx - 3.3} y={p.cy - 3.3} width={6.6} height={6.6} fill={fill} />;

function DayTick(props: any) {
  const { x, y, payload, side, dates } = props;
  const d = payload.value as number;
  const major = d % 2 === 0;
  const len = major ? 15 : 8;
  const y2 = side === "top" ? y + len : y - len;
  const lx = x + 21;
  const ly = y + 47;
  return (
    <g>
      <line x1={x} x2={x} y1={y} y2={y2} stroke="#000" strokeWidth={2} />
      {dates && major ? (
        <text x={lx} y={ly} textAnchor="end" fontSize={27} fontFamily={FONT} fill="#000"
          transform={`rotate(-45 ${lx} ${ly})`}>{dayLabel(d)}</text>
      ) : null}
    </g>
  );
}

function ValueTick(props: any) {
  const { x, y, payload, side, labelled } = props;
  const v = payload.value as number;
  const hasLabel = labelled.includes(v);
  if (side === "right") {
    return <line x1={x} x2={x - (hasLabel ? 10 : 5)} y1={y} y2={y} stroke="#000" strokeWidth={2} />;
  }
  return (
    <g>
      <line x1={x} x2={x + 15} y1={y} y2={y} stroke="#000" strokeWidth={2} />
      {hasLabel ? (
        <text x={x - 17} y={y} dy="0.36em" textAnchor="end" fontSize={28} fontFamily={FONT} fill="#000">
          {fmtNum(v)}
        </text>
      ) : null}
    </g>
  );
}

function Sup({ children }: { children: string }) {
  return <><tspan dy={-11} fontSize={20}>{children}</tspan><tspan dy={11}>{"\u200a"}</tspan></>;
}

function titleRenderer(lines: { x: number; body: React.ReactNode }[], cy: number, letter: string, letterY: number) {
  return () => (
    <g fontFamily={FONT}>
      {lines.map((l, i) => (
        <text key={i} x={l.x} y={cy} dy="0.35em" textAnchor="middle" fontSize={30} fill="#000"
          transform={`rotate(-90 ${l.x} ${cy})`}>{l.body}</text>
      ))}
      <text x={196} y={letterY} fontSize={30} fill="#3a3a3a">{letter}</text>
    </g>
  );
}

// axes are 1 px thick boxes (recharts skips 0-size axes); margins below compensate
function frame(o: {
  domain: [number, number]; ticks: number[]; labelled: number[]; dates?: boolean;
  yKey?: string; title: () => React.ReactNode;
}) {
  return [
    <XAxis key="xb" xAxisId={0} type="number" dataKey="t" domain={[0, X_MAX]} ticks={DAY_TICKS}
      interval={0} height={1} tickSize={0} tickMargin={0} tickLine={false} axisLine={AXIS_LINE}
      allowDataOverflow tick={(p: any) => <DayTick {...p} side="bottom" dates={o.dates} />}
      label={o.dates ? () => (
        <text x={700} y={1246} textAnchor="middle" fontSize={30} fontFamily={FONT} fill="#000">Date [dd.m.]</text>
      ) : undefined} />,
    <XAxis key="xt" xAxisId="top" orientation="top" type="number" domain={[0, X_MAX]} ticks={DAY_TICKS}
      interval={0} height={1} tickSize={0} tickMargin={0} tickLine={false} axisLine={AXIS_LINE}
      allowDataOverflow tick={(p: any) => <DayTick {...p} side="top" />} />,
    <YAxis key="yl" yAxisId={0} type="number" dataKey={o.yKey} domain={o.domain} ticks={o.ticks}
      interval={0} width={1} tickSize={0} tickMargin={0} tickLine={false} axisLine={AXIS_LINE}
      allowDataOverflow tick={(p: any) => <ValueTick {...p} side="left" labelled={o.labelled} />}
      label={o.title} />,
    <YAxis key="yr" yAxisId="r" orientation="right" type="number" domain={o.domain} ticks={o.ticks}
      interval={0} width={1} tickSize={0} tickMargin={0} tickLine={false} axisLine={AXIS_LINE}
      allowDataOverflow tick={(p: any) => <ValueTick {...p} side="right" labelled={o.labelled} />} />,
  ];
}

const chartBox: React.CSSProperties = { position: "absolute", left: 0, top: 0 };
const margin = (top: number, bottom: number) => ({ top: top - 1, bottom: H - bottom - 1, left: 172, right: 1 });

export default function App() {
  const surface = surfaceRows();
  const flags = flagRows();

  return (
    <div style={{ position: "absolute", left: 0, top: 0, width: W, height: H, background: "#fff", fontFamily: FONT }}>
      <div style={chartBox}>
        <ComposedChart width={W} height={H} margin={margin(25.5, 285)}>
          <Area data={surface} dataKey="open" type="stepAfter" stroke="none" fill={C_OPEN} fillOpacity={1}
            isAnimationActive={false} dot={false} activeDot={false} />
          <Area data={surface} dataKey="lead" type="stepAfter" stroke="none" fill={C_LEADS} fillOpacity={1}
            isAnimationActive={false} dot={false} activeDot={false} />
          <Area data={surface} dataKey="ice" type="stepAfter" stroke="none" fill={C_ICE} fillOpacity={1}
            isAnimationActive={false} dot={false} activeDot={false} />
          <Area data={flags} dataKey="f" type="linear" stroke="none" fill={C_FLAG} fillOpacity={1}
            isAnimationActive={false} dot={false} activeDot={false} />
          {frame({
            domain: [11.3, 100], ticks: [20, 30, 40, 50, 60, 70, 80, 90, 100], labelled: [20, 40, 60, 80, 100],
            title: titleRenderer([{ x: 31, body: "Surface type [%]" }], 151, "(a)", 57),
          })}
        </ComposedChart>
      </div>

      <div style={chartBox}>
        <ComposedChart width={W} height={H} margin={margin(285, 564)}>
          <ReferenceLine y={0} stroke="#9a9a9a" strokeWidth={1.5} />
          <Scatter data={[...regular(FLUX_DOWN), ...pairs(FLUX_DOWN_EXTRA)]} dataKey="v" fill={C_FLUX_DOWN}
            shape={square(C_FLUX_DOWN)} isAnimationActive={false} />
          <Scatter data={[...regular(FLUX_UP), ...pairs(FLUX_UP_EXTRA)]} dataKey="v" fill={C_FLUX_UP}
            shape={square(C_FLUX_UP)} isAnimationActive={false} />
          {frame({
            domain: [-1.82, 1.82], ticks: [-1.5, -1, -0.5, 0, 0.5, 1, 1.5], labelled: [-1, 0, 1], yKey: "v",
            title: titleRenderer([
              { x: 27, body: "Particle flux" },
              { x: 74, body: <>[10<Sup>6</Sup> m<Sup>-2</Sup> s<Sup>-1</Sup>]</> },
            ], 424, "(b)", 327),
          })}
        </ComposedChart>
      </div>

      <div style={chartBox}>
        <ComposedChart width={W} height={H} margin={margin(564, 843.5)}>
          {SNOW_BANDS.map(([a, b], i) => (
            <ReferenceArea key={i} x1={a} x2={b} fill={C_SNOW} fillOpacity={1} stroke="none" />
          ))}
          <Scatter
            data={[...regular(USTAR), ...regular(USTAR_MID, STEP / 2), ...regular(USTAR_ALT, (3 * STEP) / 4), ...pairs(USTAR_EXTRA)]}
            dataKey="v" fill={C_USTAR} shape={square(C_USTAR)} isAnimationActive={false} />
          {frame({
            domain: [0, 1.5], ticks: [0, 0.5, 1, 1.5], labelled: [0, 1], yKey: "v",
            title: titleRenderer([
              { x: 33, body: "Friction velocity" },
              { x: 79, body: <>[m s<Sup>-1</Sup>]</> },
            ], 697, "(c)", 596),
          })}
        </ComposedChart>
      </div>

      <div style={chartBox}>
        <ComposedChart width={W} height={H} margin={margin(843.5, 1122)}>
          {CAMPS.map((c) => (
            <ReferenceArea key={c.name} x1={c.from} x2={c.to} fill={C_CAMP} fillOpacity={1} stroke="none"
              label={{ value: c.name, position: "insideTop", offset: 11, fontSize: 21, fill: "#000", fontFamily: FONT }} />
          ))}
          <ReferenceLine y={0} stroke="#9a9a9a" strokeWidth={1.5} />
          <Scatter data={[...regular(SHF_DOWN), ...pairs(SHF_DOWN_EXTRA)]} dataKey="v" fill={C_SHF_DOWN}
            shape={square(C_SHF_DOWN)} isAnimationActive={false} />
          <Scatter
            data={[...regular(SHF_UP), ...regular(SHF_UP_MID, STEP / 2), ...regular(SHF_UP_ALT, (3 * STEP) / 4), ...pairs(SHF_UP_EXTRA)]}
            dataKey="v" fill={C_SHF_UP} shape={square(C_SHF_UP)} isAnimationActive={false} />
          {frame({
            domain: [-130, 130.5], ticks: [-125, -100, -75, -50, -25, 0, 25, 50, 75, 100, 125],
            labelled: [-100, -50, 0, 50, 100], yKey: "v", dates: true,
            title: titleRenderer([
              { x: 27, body: "Sensible heat flux" },
              { x: 73, body: <>[W m<Sup>-2</Sup>]</> },
            ], 982, "(d)", 878),
          })}
        </ComposedChart>
      </div>

      {/* legend of (a) */}
      <div style={{ position: "absolute", left: 908, top: 31, width: 380, height: 21, background: "#fff" }} />
      {[
        { c: C_ICE, label: "Closed ice", sx: 914, sw: 32, tx: 952 },
        { c: C_LEADS, label: "Leads", sx: 1052, sw: 30, tx: 1090 },
        { c: C_OPEN, label: "Open water", sx: 1152, sw: 30, tx: 1187 },
      ].map((it) => (
        <React.Fragment key={it.label}>
          <div style={{ position: "absolute", left: it.sx, top: 33, width: it.sw, height: 16, background: it.c }} />
          <div style={{
            position: "absolute", left: it.tx, top: 29, fontSize: 18, lineHeight: "23px",
            fontFamily: "'Open Sans', sans-serif", color: "#000", whiteSpace: "nowrap",
          }}>{it.label}</div>
        </React.Fragment>
      ))}

      {/* legend of (c) */}
      <div style={{ position: "absolute", left: 1100, top: 578, width: 39, height: 18, background: C_SNOW }} />
      <div style={{
        position: "absolute", left: 1147, top: 574, fontSize: 21, lineHeight: "26px",
        fontFamily: FONT, color: "#000", whiteSpace: "nowrap",
      }}>Blowing snow</div>
    </div>
  );
}
